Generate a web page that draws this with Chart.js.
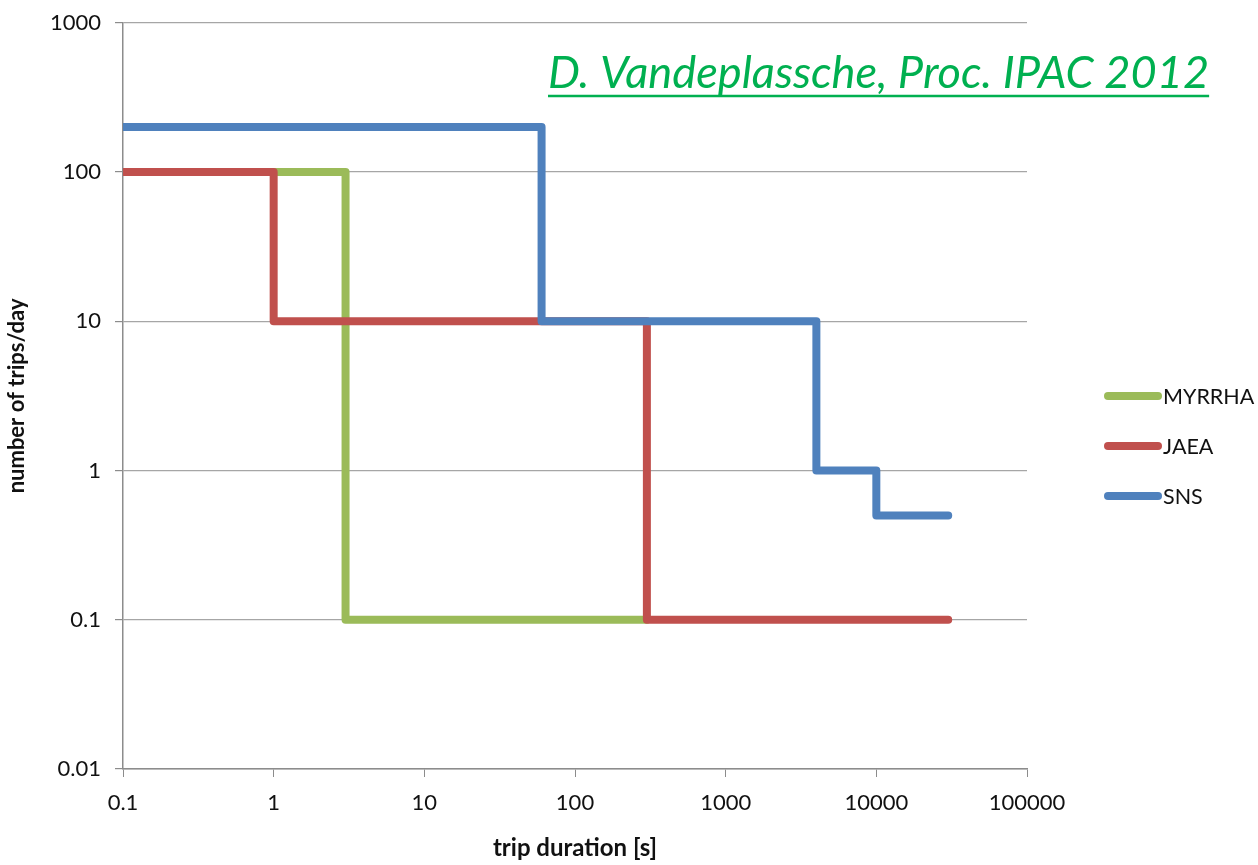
<!DOCTYPE html>
<html>
<head>
<meta charset="utf-8">
<script src="https://cdn.jsdelivr.net/npm/chart.js@4.4.1/dist/chart.umd.min.js"></script>
<style>
  html, body { margin: 0; padding: 0; background: #fff; }
</style>
</head>
<body>
<canvas id="tripChart" width="1258" height="865"></canvas>
<script>
const seriesNames = ['MYRRHA', 'JAEA', 'SNS'];
const seriesColors = ['#9bbb59', '#c0504d', '#4f81bd'];

// each point = where a level starts (trip duration [s], trips/day)
const myrrhaDur = [0.1, 3, 300];
const myrrhaTrips = [100, 0.1, 0.1];
const jaeaDur = [0.1, 1, 300, 30000];
const jaeaTrips = [100, 10, 0.1, 0.1];
const snsDur = [0.1, 60, 4000, 10000, 30000];
const snsTrips = [200, 10, 1, 0.5, 0.5];

const xTicks = [0.1, 1, 10, 100, 1000, 10000, 100000];
const yTicks = [0.01, 0.1, 1, 10, 100, 1000];
const citation = 'D. Vandeplassche, Proc. IPAC 2012';

const toPoints = (xs, ys) => xs.map((x, i) => ({ x: x, y: ys[i] }));

function stepSet(i, xs, ys, order) {
  return {
    label: seriesNames[i],
    data: toPoints(xs, ys),
    borderColor: seriesColors[i],
    backgroundColor: seriesColors[i],
    borderWidth: 8,
    borderCapStyle: 'round',
    borderJoinStyle: 'round',
    showLine: true,
    stepped: 'before',   // hold level, then drop at next duration
    pointRadius: 0,
    order: order
  };
}

// legend drawn on the right side, outside the plot
const sideLegend = {
  id: 'sideLegend',
  afterDraw(chart) {
    const ctx = chart.ctx;
    ctx.save();
    ctx.font = '21.5px Lato';
    ctx.textBaseline = 'middle';
    ctx.fillStyle = '#111';
    chart.data.datasets.forEach((ds, i) => {
      const y = 396 + i * 50;
      ctx.strokeStyle = ds.borderColor;
      ctx.lineWidth = 8;
      ctx.lineCap = 'round';
      ctx.beginPath();
      ctx.moveTo(1108, y);
      ctx.lineTo(1158, y);
      ctx.stroke();
      ctx.fillText(ds.label, 1163, y + 1);
    });
    ctx.restore();
  }
};

// green underlined reference note
const citeNote = {
  id: 'citeNote',
  afterDraw(chart) {
    const ctx = chart.ctx;
    ctx.save();
    ctx.font = 'italic 40px Lato';
    let w = ctx.measureText(citation).width;
    const size = 40 * 662 / w;
    ctx.font = 'italic ' + size.toFixed(1) + 'px Lato';
    w = ctx.measureText(citation).width;
    ctx.fillStyle = '#00b050';
    ctx.textBaseline = 'alphabetic';
    ctx.fillText(citation, 548, 88);
    ctx.strokeStyle = '#00b050';
    ctx.lineWidth = 2.5;
    ctx.beginPath();
    ctx.moveTo(548, 96);
    ctx.lineTo(548 + w, 96);
    ctx.stroke();
    ctx.restore();
  }
};

new Chart(document.getElementById('tripChart').getContext('2d'), {
  type: 'scatter',
  data: {
    datasets: [
      stepSet(0, myrrhaDur, myrrhaTrips, 3),
      stepSet(1, jaeaDur, jaeaTrips, 2),
      stepSet(2, snsDur, snsTrips, 1)
    ]
  },
  options: {
    responsive: false,
    animation: false,
    layout: { padding: { top: 10, right: 231, left: 0, bottom: 0 } },
    plugins: {
      legend: { display: false },
      tooltip: { enabled: false }
    },
    scales: {
      x: {
        type: 'logarithmic',
        min: 0.1,
        max: 100000,
        afterBuildTicks: axis => { axis.ticks = xTicks.map(v => ({ value: v })); },
        afterFit: scale => { scale.height = 96; },
        grid: { drawOnChartArea: false, drawTicks: true, tickLength: 8, color: '#8c8c8c' },
        border: { color: '#8c8c8c', width: 1.5 },
        ticks: {
          autoSkip: false,
          maxRotation: 0,
          padding: 13,
          color: '#111',
          font: { family: 'Lato', size: 22 },
          callback: v => String(v)
        },
        title: {
          display: true,
          text: 'trip duration [s]',
          color: '#111',
          font: { family: 'Lato', size: 24, weight: 'bold' },
          padding: { top: 0, bottom: 2 }
        }
      },
      y: {
        type: 'logarithmic',
        min: 0.01,
        max: 1000,
        afterBuildTicks: axis => { axis.ticks = yTicks.map(v => ({ value: v })); },
        afterFit: scale => { scale.width = 123; },
        grid: { color: '#a6a6a6', lineWidth: 1.2, tickLength: 8, tickColor: '#8c8c8c' },
        border: { color: '#8c8c8c', width: 1.5 },
        ticks: {
          autoSkip: false,
          padding: 14,
          color: '#111',
          font: { family: 'Lato', size: 22, lineHeight: 0.8 },
          callback: v => String(v)
        },
        title: {
          display: true,
          text: 'number of trips/day',
          color: '#111',
          font: { family: 'Lato', size: 22, weight: 'bold' },
          padding: { top: 4, bottom: 0 }
        }
      }
    }
  },
  plugins: [sideLegend, citeNote]
});
</script>
</body>
</html>
